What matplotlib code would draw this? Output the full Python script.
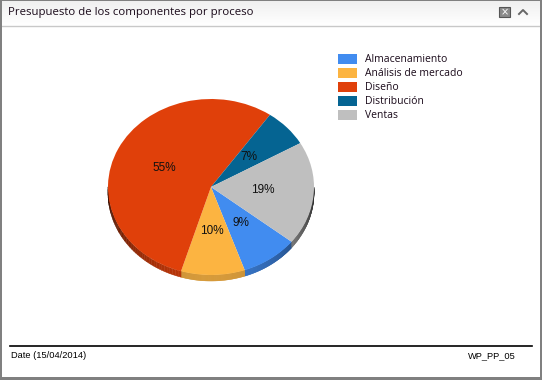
import numpy as np
import matplotlib
matplotlib.use("Agg")
from matplotlib import pyplot as plt
from matplotlib.patches import Rectangle, Polygon
from matplotlib.colors import to_rgb

# data
categories = ["Almacenamiento", "Análisis de mercado", "Diseño", "Distribución", "Ventas"]
values = [9, 10, 55, 7, 19]
colors = ["#418CF0", "#FCB441", "#E0400A", "#056492", "#BFBFBF"]
title = "Presupuesto de los componentes por proceso"
footer_left = "Date (15/04/2014)"
footer_right = "WP_PP_05"

W, H = 542, 380
fig = plt.figure(figsize=(W / 100, H / 100), dpi=100)

# background "window" drawn in pixel coords
bg = fig.add_axes([0, 0, 1, 1])
bg.set_xlim(0, W)
bg.set_ylim(H, 0)
bg.axis("off")
bg.add_patch(Rectangle((0, 0), W, H, facecolor="white", edgecolor="none"))
# title bar with light gradient
grad = np.linspace(0.94, 1.0, 50).reshape(-1, 1)
bg.imshow(np.dstack([grad, grad, grad]), extent=(2, W - 2, 25, 1), aspect="auto", zorder=1)
bg.plot([2, W - 2], [25.5, 25.5], color="#c8c8c8", lw=1, zorder=2)
# outer frame
bg.add_patch(Rectangle((0, 0), 2, H, facecolor="#808080", zorder=3))
bg.add_patch(Rectangle((W - 2, 0), 2, H, facecolor="#808080", zorder=3))
bg.add_patch(Rectangle((0, 0), W, 1, facecolor="#808080", zorder=3))
bg.add_patch(Rectangle((0, H - 3), W, 3, facecolor="#808080", zorder=3))
bg.text(8, 13, title, fontsize=8.2, family="Open Sans", color="#1a0a1a", va="center", ha="left", zorder=4)
# close / collapse icons
bg.add_patch(Rectangle((499, 7), 11, 10, facecolor="#8a8a8a", edgecolor="#555555", lw=0.8, zorder=4))
bg.text(504.5, 12, "×", fontsize=7, color="white", ha="center", va="center", zorder=5)
bg.plot([519, 523, 527], [14, 10, 14], color="#666666", lw=1.4, zorder=4)
# footer
bg.plot([10, 532], [346, 346], color="black", lw=1.2, zorder=2)
bg.text(11, 356, footer_left, fontsize=6.7, family="Liberation Sans", va="center", ha="left")
bg.text(516, 356, footer_right, fontsize=6.7, family="Liberation Sans", va="center", ha="right")

# pie axes: ellipse center (211,187), rx=103, ry=88 px
cx, cy, rx, ry = 211, 187, 103, 88
m = 1.2
ax = fig.add_axes([(cx - m * rx) / W, (H - cy - m * ry) / H, 2 * m * rx / W, 2 * m * ry / H])
start = -38.5
wedges, texts, autotexts = ax.pie(values, colors=colors, startangle=start, counterclock=False,
                                  autopct="%1.0f%%", pctdistance=0.5, radius=1,
                                  wedgeprops=dict(linewidth=0, zorder=3),
                                  textprops=dict(fontsize=8.5, family="Liberation Sans", color="#111111"))
for t in autotexts:
    t.set_zorder(5)
ax.set_aspect("auto")
ax.set_xlim(-m, m)
ax.set_ylim(-m, m)

# 3d side wall for the front half
depth = 6 / ry
bounds = start - np.cumsum([0] + values) * 3.6
for i, c in enumerate(colors):
    a0, a1 = bounds[i + 1], bounds[i]
    angs = np.linspace(a0, a1, 120)
    rgb = np.array(to_rgb(c))
    for j in range(len(angs) - 1):
        t0, t1 = np.radians(angs[j]), np.radians(angs[j + 1])
        if np.sin(t0) > 0 and np.sin(t1) > 0:
            continue
        tm = 0.5 * (t0 + t1)
        f = 0.2 + 0.65 * max(0, -np.sin(tm))
        poly = [(np.cos(t0), np.sin(t0)), (np.cos(t1), np.sin(t1)),
                (np.cos(t1), np.sin(t1) - depth), (np.cos(t0), np.sin(t0) - depth)]
        ax.add_patch(Polygon(poly, closed=True, facecolor=rgb * f, edgecolor=rgb * f, lw=0.3, zorder=1))

# legend drawn manually in pixel coords
for i, (name, c) in enumerate(zip(categories, colors)):
    y = 59 + i * 14
    bg.add_patch(Rectangle((338, y - 5), 19, 10, facecolor=c, edgecolor="none", zorder=4))
    bg.text(365, y, name, fontsize=7.5, family="Open Sans", color="#1a0a1a", va="center", ha="left", zorder=4)

fig.savefig("out.png", dpi=100)
